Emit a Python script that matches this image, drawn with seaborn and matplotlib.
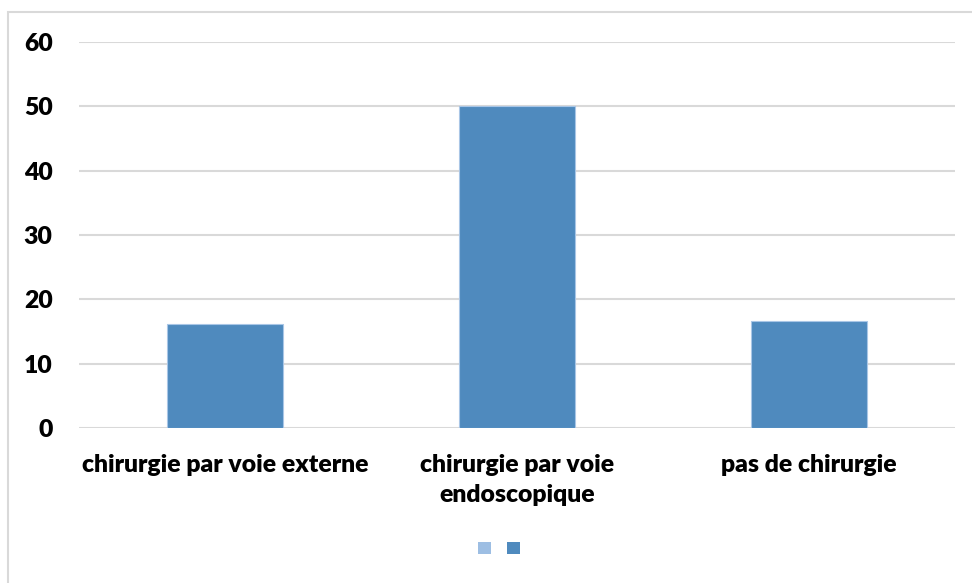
import matplotlib
matplotlib.use("Agg")
import matplotlib.pyplot as plt
from matplotlib.patches import Rectangle, Patch
import seaborn as sns
import pandas as pd

categories = ["chirurgie par voie externe", "chirurgie par voie\nendoscopique", "pas de chirurgie"]
values = [16.1, 50.0, 16.6]
y_ticks = [0, 10, 20, 30, 40, 50, 60]

bar_color = "#4F8ABE"
light_color = "#9DBEE3"
grid_color = "#D9D9D9"

sns.set_theme(style="white")
plt.rcParams["font.family"] = ["Lato", "DejaVu Sans"]

df = pd.DataFrame({"categorie": categories, "valeur": values})

fig = plt.figure(figsize=(9.72, 5.83), dpi=100)
ax = fig.add_axes([0.0813, 0.266, 0.9012, 0.662])

sns.barplot(data=df, x="categorie", y="valeur", color=bar_color, width=0.4,
            saturation=1, edgecolor="#A9C6E6", linewidth=0.8, ax=ax, zorder=3)

ax.set_ylim(0, 60)
ax.set_yticks(y_ticks)
ax.set_xlim(-0.5, 2.5)
ax.yaxis.grid(True, color=grid_color, linewidth=1.5, zorder=0)
ax.set_axisbelow(True)
for s in ax.spines.values():
    s.set_visible(False)
ax.set_xlabel("")
ax.set_ylabel("")
ax.tick_params(axis="both", length=0, labelsize=17.8, colors="black")
ax.tick_params(axis="y", pad=19)
ax.tick_params(axis="x", pad=18.5)
for lab in ax.get_xticklabels() + ax.get_yticklabels():
    lab.set_fontweight("heavy")
for lab in ax.get_xticklabels():
    lab.set_linespacing(1.45)

# chart frame
fig.patches.append(Rectangle((8 / 972, -0.1), 1.2, 1 - 12 / 583 + 0.1, transform=fig.transFigure,
                             fill=False, edgecolor=grid_color, linewidth=1.5, zorder=0))

handles = [Patch(facecolor=light_color, edgecolor="none"),
           Patch(facecolor=bar_color, edgecolor="none")]
fig.legend(handles, ["", ""], loc="center", bbox_to_anchor=(0.5 + 13 / 972, 1 - 549 / 583),
           ncol=2, frameon=False, handlelength=0.85, handleheight=0.85,
           columnspacing=1.0, handletextpad=0.0)

fig.savefig("out.png", dpi=100)
